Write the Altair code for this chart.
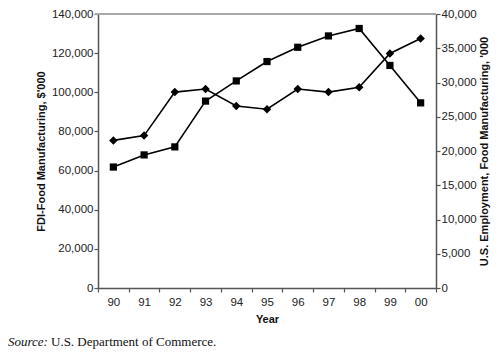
import altair as alt
import pandas as pd

years = ["90", "91", "92", "93", "94", "95", "96", "97", "98", "99", "00"]
fdi = [61800, 68000, 72100, 95500, 105800, 115700, 123000, 128800, 132600, 113700, 94600]
employment = [21550, 22250, 28600, 29050, 26570, 26100, 29050, 28600, 29300, 34230, 36430]
left_ticks = [0, 20000, 40000, 60000, 80000, 100000, 120000, 140000]
right_ticks = [0, 5000, 10000, 15000, 20000, 25000, 30000, 35000, 40000]

TOP = 6
LEFT = 90
W, H = 338, 280 - TOP
df = pd.DataFrame({"year": years, "fdi": fdi, "emp": employment})

FONT = "Liberation Sans"
axis_common = dict(
    labelFont=FONT, labelFontSize=11.5, labelColor="#222",
    titleFont=FONT, titleFontSize=11, titleFontWeight="bold", titleColor="#111",
    domainColor="#555", domainWidth=1.5, tickColor="#555", tickWidth=1.2,
    tickSize=4, grid=False,
)

x_enc = alt.X(
    "year:O", sort=years, bandPosition=0.5,
    scale=alt.Scale(type="band", paddingInner=0, paddingOuter=0),
    axis=alt.Axis(title="Year", labelAngle=0, tickBand="extent", labelPadding=4,
                  titlePadding=6, **axis_common),
)

left = alt.Chart(df).mark_line(
    color="black", strokeWidth=1.6,
    point=alt.OverlayMarkDef(shape="square", size=52, filled=True, color="black", opacity=1),
).encode(
    x=x_enc,
    y=alt.Y("fdi:Q", scale=alt.Scale(domain=[0, 140000], nice=False),
            axis=alt.Axis(title="FDI-Food Manufacturing, $'000", values=left_ticks, format=",.0f",
                          orient="left", labelPadding=1, titlePadding=5, **axis_common)),
)

right = alt.Chart(df).mark_line(
    color="black", strokeWidth=1.6,
    point=alt.OverlayMarkDef(shape="diamond", size=72, filled=True, color="black", opacity=1),
).encode(
    x=x_enc,
    y=alt.Y("emp:Q", scale=alt.Scale(domain=[0, 40000], nice=False),
            axis=alt.Axis(title="U.S. Employment, Food Manufacturing, '000", values=right_ticks,
                          format=",.0f", orient="right", titleAngle=270, titleBaseline="top",
                          labelPadding=1, titlePadding=2, **axis_common)),
)

top_border = alt.Chart(pd.DataFrame({"a": [0]})).mark_rule(color="#a8a8a8", strokeWidth=2).encode(
    x=alt.value(-3), x2=alt.value(W), y=alt.value(0)
)

src1 = alt.Chart(pd.DataFrame({"t": ["Source:"]})).mark_text(
    font="Liberation Serif", fontSize=13, fontStyle="italic", align="left",
    baseline="alphabetic", color="#111"
).encode(text="t:N", x=alt.value(-LEFT), y=alt.value(338 - TOP))

src2 = alt.Chart(pd.DataFrame({"t": ["U.S. Department of Commerce."]})).mark_text(
    font="Liberation Serif", fontSize=13, align="left", baseline="alphabetic", color="#111"
).encode(text="t:N", x=alt.value(-LEFT + 43), y=alt.value(338 - TOP))

chart = alt.layer(left, right, top_border, src1, src2).resolve_scale(
    y="independent"
).properties(
    width=W, height=H,
    autosize=alt.AutoSizeParams(type="none"),
    padding={"left": LEFT, "top": TOP, "right": 484 - LEFT - W, "bottom": 342 - H - TOP},
).configure_view(stroke=None)

chart.save("out.html", embed_options={"renderer": "svg", "actions": False})
